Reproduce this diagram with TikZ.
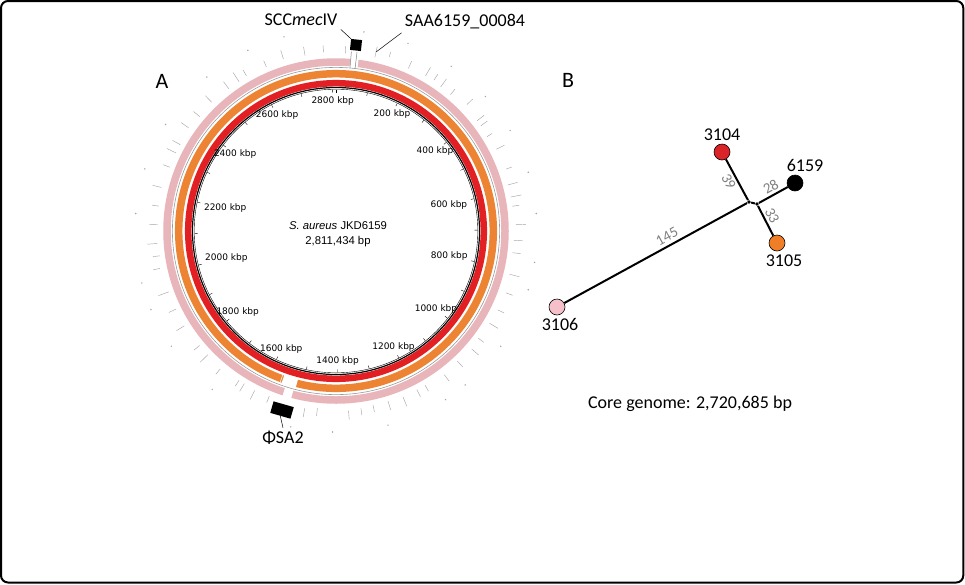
\documentclass[tikz,border=0pt]{standalone}
\usepackage{fontspec}
\setmainfont{Carlito}
\newfontfamily\kbpfont{DejaVu Sans}
\newfontfamily\arialfont{Liberation Sans}
\usepackage{xcolor}
\usepackage{tikz}
\usetikzlibrary{positioning,calc}

\definecolor{ringPink}{RGB}{232,182,186}
\definecolor{ringOrange}{RGB}{236,132,52}
\definecolor{ringRed}{RGB}{226,32,36}
\definecolor{dotPink}{RGB}{246,192,202}
\definecolor{dotRed}{RGB}{218,36,40}
\definecolor{dotOrange}{RGB}{240,126,38}
\definecolor{annoGray}{RGB}{165,165,165}

\begin{document}
\begin{tikzpicture}[x=1pt, y=1pt,
    isolate/.style={circle, draw=black, line width=0.6pt, minimum size=16pt, inner sep=0pt},
    hub/.style={circle, fill=black, inner sep=1.4pt},
    isoLabel/.style={font=\fontsize{18}{20}\selectfont},
    snpLabel/.style={font=\fontsize{15}{17}\selectfont, text=gray, inner sep=1pt, sloped},
    kbpLabel/.style={font=\kbpfont\fontsize{9}{10}\selectfont, inner sep=1pt},
    featLabel/.style={font=\fontsize{18}{20}\selectfont},
    featBox/.style={fill=black, inner sep=0pt},
    branch/.style={line width=2pt}]

    % Rahmen
    \useasboundingbox (0,0) rectangle (965,-584);
    \draw[line width=2pt, rounded corners=7pt] (1,-1) rectangle (963.3,-582.5);

    % Panel A: Ringe
    \coordinate (ctr) at (336,-231);
    \draw[ringPink, line width=7.5pt] (ctr) circle[radius=169];
    \draw[gray!80, line width=0.6pt] (ctr) circle[radius=163.6];
    \draw[ringOrange, line width=7.5pt] (ctr) circle[radius=157.3];
    \draw[ringRed, line width=6.5pt] (ctr) circle[radius=147.8];
    \draw[black, line width=1.2pt] (ctr) circle[radius=143.5];
    \draw[black, line width=0.4pt] (ctr) circle[radius=141.8];

    % Luecken in den Ringen
    \draw[white, line width=8.5pt] ($(ctr)+(85.2:169)$) arc[start angle=85.2, end angle=82.5, radius=169];
    \draw[white, line width=8.5pt] ($(ctr)+(-104.4:157.3)$) arc[start angle=-104.4, end angle=-109.7, radius=157.3];
    \draw[white, line width=8.5pt] ($(ctr)+(-105:169)$) arc[start angle=-105, end angle=-108, radius=169];
    \draw[white, line width=0.5pt] ($(ctr)+(-110.3:153)$) -- ($(ctr)+(-110.3:161.5)$);

    % Skala innen
    \foreach \p in {0,100,...,2800}
        \draw[line width=0.4pt] ($(ctr)+({90-\p/2811.434*360}:141.5)$) -- ($(ctr)+({90-\p/2811.434*360}:138.5)$);
    \foreach \p in {200,400,...,2800} {
        \pgfmathsetmacro{\a}{90-\p/2811.434*360}
        \node[kbpLabel, anchor=\a] (kbp\p) at ($(ctr)+(\a:136)$) {\p\ kbp};
    }

    % Annotationen aussen
    \foreach \c/\ri/\ro in {3/178/185, 12.6/178/189, 17/182/187, 24/178/186, 30/179/189, 33/180/187,
                            36/178/188, 40/178/185, 46/182/190, 52/179/188, 54/179/187, 58/178/184,
                            63/180/189, 70/181/187, 75/178/188, 79/178/189, 82/178/185, 88/180/190,
                            93/178/187, 97/178/186, 104/179/189, 110/181/188, 116/180/187, 121/179/189,
                            127/178/185, 131/180/189, 137/178/186, 143/180/188, 150/178/185, 153/178/186,
                            158/179/189, 163/178/187, 168/178/185, 172/179/186, 176/180/189, 186/178/186,
                            190/180/189, 202/178/185, 207/179/189, 211/178/187, 213/178/185, 220/180/187,
                            226/178/189, 230/178/185, 238/179/188, 244/178/186, 250/178/189, 258/180/187,
                            262/178/185, 266/179/189, 272/178/187, 278/179/186, 284/180/189, 291/178/185,
                            296/178/188, 299/178/187, 305/180/189, 310/178/186, 316/179/188, 323/178/187,
                            327/178/189, 330/179/186, 337/178/185, 343/180/189, 350/178/187, 356/179/186}
        \draw[annoGray, line width=0.45pt] ($(ctr)+({90-\c}:\ri)$) -- ($(ctr)+({90-\c}:\ro)$);
    \foreach \c in {8,21,35,48,60,73,85,99,107,125,140,147,165,181,193,218,235,247,255,275,288,302,320,334,345}
        \fill[annoGray] ($(ctr)+({90-\c}:201)$) circle[radius=0.8];

    % Genomname
    \node[font=\arialfont\fontsize{11.3}{15}\selectfont, align=center] (genomeName) at (338,-234)
        {\textit{S. aureus} JKD6159\\2,811,434 bp};

    % Markierte Regionen
    \node[featBox, minimum size=11pt, rotate=-6] (sccBox) at (356,-45) {};
    \draw[gray, line width=0.5pt] ($(ctr)+(85.1:164)$) -- ($(ctr)+(85.1:180)$);
    \draw[gray, line width=0.5pt] ($(ctr)+(83.3:164)$) -- ($(ctr)+(83.3:180)$);
    \node[featLabel] (sccLabel) at (301,-20) {SCC\textit{mec}IV};
    \draw[line width=0.5pt] (sccLabel.south east) -- (sccBox.north west);

    \coordinate (saaTick) at (376,-52);
    \node[featLabel] (saaLabel) at (465,-22) {SAA6159\_00084};
    \draw[line width=0.5pt] (saaLabel.south west) -- (saaTick);

    \node[featBox, minimum width=21pt, minimum height=12pt, rotate=-16] (phiBox) at (282,-410) {};
    \node[featLabel] (phiLabel) at (283,-438) {ΦSA2};
    \draw[line width=0.5pt] (phiBox.south) -- (phiLabel.north);

    % Panel-Buchstaben
    \node[font=\fontsize{22}{24}\selectfont] (panelA) at (162,-81) {A};
    \node[font=\fontsize{22}{24}\selectfont] (panelB) at (568,-80) {B};

    % Panel B: Baum
    \node[isolate, fill=dotRed] (n3104) at (722,-152) {};
    \node[isolate, fill=black] (n6159) at (795,-183) {};
    \node[isolate, fill=dotOrange] (n3105) at (777,-243) {};
    \node[isolate, fill=dotPink] (n3106) at (557,-307) {};
    \node[hub] (hubA) at (749,-202) {};
    \node[hub] (hubB) at (757,-204) {};

    \node[isoLabel, above=0pt of n3104] (lab3104) {3104};
    \node[isoLabel, above=0pt of n6159, xshift=10pt] (lab6159) {6159};
    \node[isoLabel, below=0pt of n3105, xshift=7pt] (lab3105) {3105};
    \node[isoLabel, below=0pt of n3106, xshift=3pt] (lab3106) {3106};

    \foreach \source/\dest in {n3104/hubA, n3106/hubA, hubA/hubB, hubB/n6159, hubB/n3105}
        \draw[branch] (\source) -- (\dest);

    % SNP-Distanzen
    \path (n3106) -- (hubA) node[snpLabel, pos=0.585, above=3pt] (snp145) {145};
    \path (n3104) -- (hubA) node[snpLabel, pos=0.45, below=2pt] (snp39) {39};
    \path (hubB) -- (n6159) node[snpLabel, pos=0.55, above=2pt] (snp28) {28};
    \path (hubB) -- (n3105) node[snpLabel, pos=0.45, above=2pt] (snp33) {33};

    \node[font=\fontsize{18}{20}\selectfont] (coreLabel) at (690,-404) {Core genome: 2,720,685 bp};
\end{tikzpicture}
\end{document}
